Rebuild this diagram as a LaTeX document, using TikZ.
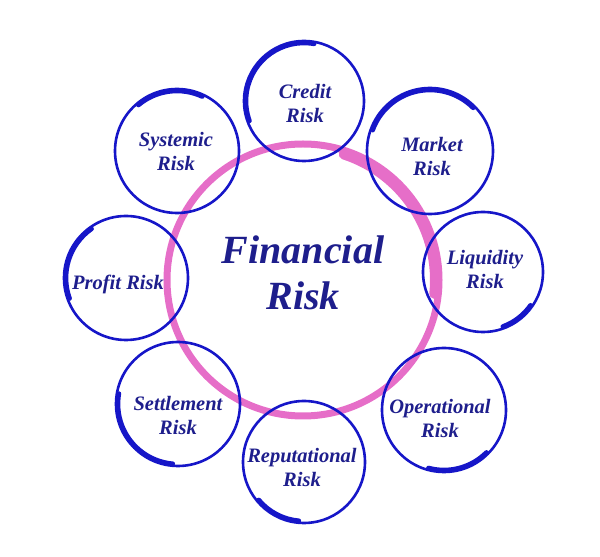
\documentclass[tikz,border=0pt]{standalone}
\usepackage{fontspec}
\setmainfont{Liberation Serif}
\usetikzlibrary{calc}

\definecolor{ringblue}{RGB}{22,22,200}
\definecolor{labelblue}{RGB}{30,30,140}
\definecolor{ringpink}{RGB}{230,110,200}

\tikzset{
  ring/.style={draw=ringblue, line width=2.6pt},
  brush/.style={draw=ringblue, line width=4.6pt, line cap=round},
  risklabel/.style={text=labelblue, align=center,
    font=\fontsize{20.5}{24}\selectfont\bfseries\itshape},
}

\begin{document}
\begin{tikzpicture}[x=1pt,y=1pt]
  \useasboundingbox (0,0) rectangle (600,557);

  % 中间的粉色圆环
  \coordinate (fin) at (303,277);
  \draw[draw=ringpink, line width=7pt] (fin) circle[radius=136];
  \draw[draw=ringpink, line width=10pt, line cap=round]
    ($(fin)+(72:132)$) arc[start angle=72, end angle=-6, radius=132];

  % 外圈的八个蓝色圆 (x/y/半径/粗笔起止角)
  \foreach \x/\y/\r/\a/\b in {304/456/60/80/200, 430/406/63/45/160,
      483/285/60/-70/-35, 444/147/62/-105/-45, 304/95/61/-140/-95,
      178/153/62/170/265, 126/279/62/125/200, 177/406/62/65/130}{
    \draw[ring] (\x,\y) circle[radius=\r];
    \draw[brush] ($(\x,\y)+(\a:{\r-2})$) arc[start angle=\a, end angle=\b, radius={\r-2}];
  }

  % 标签
  \node[risklabel, font=\fontsize{40}{46}\selectfont\bfseries\itshape]
    (financial) at (303,284) {Financial\\Risk};

  \node[risklabel] (credit) at (305,454) {Credit\\Risk};
  \node[risklabel] (market) at (432,401) {Market\\Risk};
  \node[risklabel] (liquidity) at (485,288) {Liquidity\\Risk};
  \node[risklabel] (operational) at (440,139) {Operational\\Risk};
  \node[risklabel] (reputational) at (302,90) {Reputational\\Risk};
  \node[risklabel] (settlement) at (178,142) {Settlement\\Risk};
  \node[risklabel] (profit) at (118,273) {Profit Risk};
  \node[risklabel] (systemic) at (176,406) {Systemic\\Risk};
\end{tikzpicture}
\end{document}
